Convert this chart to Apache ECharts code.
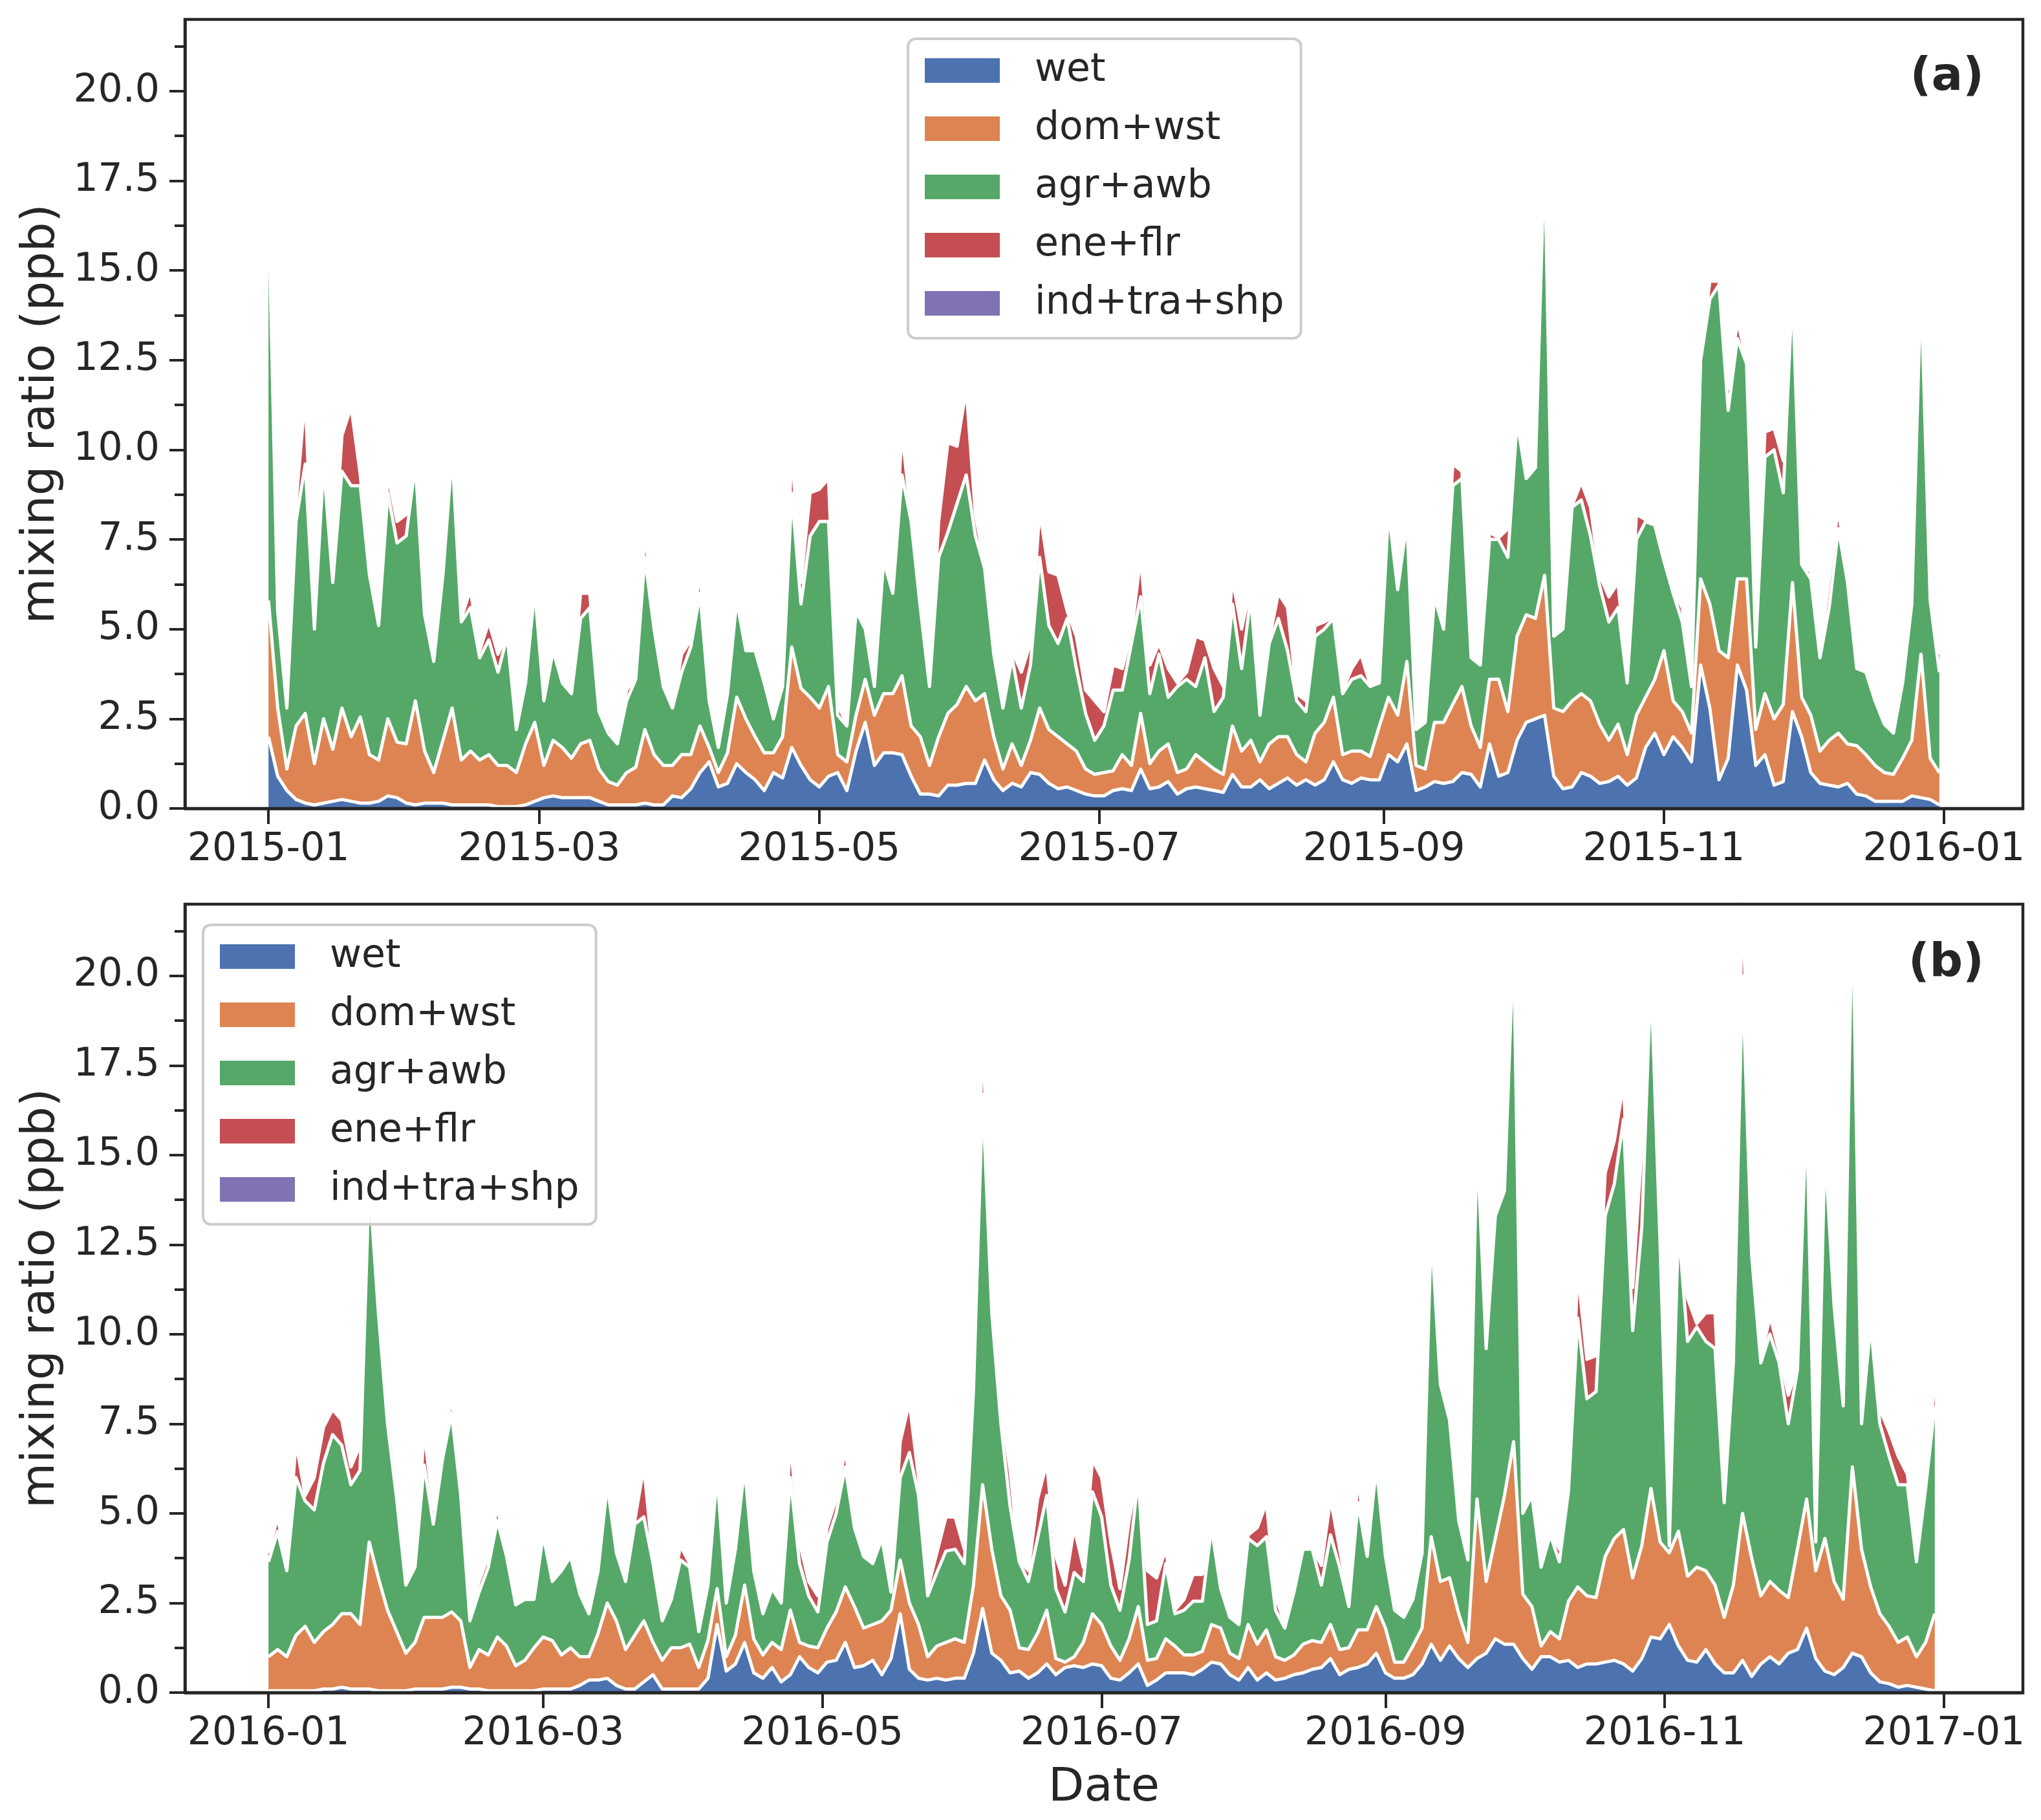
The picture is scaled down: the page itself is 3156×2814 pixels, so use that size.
<!DOCTYPE html>
<html><head><meta charset="utf-8">
<script src="https://cdn.jsdelivr.net/npm/echarts@6/dist/echarts.min.js"></script>
<style>html,body{margin:0;padding:0;background:#fff}#chart{width:3156px;height:2814px}</style>
</head><body><div id="chart"></div>
<script>
// ---------- data (values every 2 days, ppb) ----------
const sectors = ['wet', 'dom+wst', 'agr+awb', 'ene+flr', 'ind+tra+shp'];
const stepDays = 2;

const wet2015 = [
2.0,0.9,0.5,0.25,0.15,0.1,0.15,0.2,0.25,0.2,
0.15,0.15,0.2,0.35,0.3,0.15,0.1,0.15,0.15,0.15,
0.1,0.1,0.1,0.1,0.1,0.05,0.05,0.05,0.1,0.2,
0.3,0.35,0.3,0.3,0.3,0.3,0.2,0.1,0.1,0.1,
0.1,0.15,0.1,0.1,0.35,0.3,0.55,1.0,1.3,0.6,
0.7,1.25,1.0,0.8,0.5,1.0,0.85,1.7,1.2,0.8,
0.6,0.9,1.0,0.5,1.6,2.4,1.2,1.55,1.55,1.5,
0.9,0.4,0.4,0.35,0.65,0.65,0.7,0.7,1.35,0.8,
0.5,0.7,0.6,1.0,0.95,0.7,0.55,0.6,0.5,0.4,
0.35,0.35,0.5,0.55,0.5,1.1,0.55,0.6,0.75,0.4,
0.55,0.6,0.55,0.5,0.45,0.95,0.6,0.6,0.8,0.55,
0.7,0.85,0.65,0.8,0.65,0.8,1.3,0.8,0.7,0.85,
0.8,0.8,1.5,1.3,1.8,0.5,0.6,0.75,0.7,0.75,
1.0,0.95,0.6,1.8,0.9,1.0,1.9,2.4,2.5,2.6,
0.9,0.55,0.6,1.0,0.9,0.7,0.75,0.9,0.65,0.85,
1.7,2.1,1.5,2.0,1.7,1.3,4.0,2.8,0.8,1.4,
4.0,3.3,1.2,1.5,0.65,0.75,2.7,2.0,1.0,0.7,
0.65,0.6,0.7,0.4,0.35,0.2,0.2,0.2,0.2,0.35,
0.3,0.25,0.1];
const dom2015 = [
3.8,1.9,0.6,2.05,2.5,1.15,2.35,1.45,2.55,1.8,
2.4,1.35,1.15,2.15,1.55,1.65,2.9,1.45,0.85,1.75,
2.7,1.25,1.5,1.25,1.4,1.15,1.15,0.95,1.7,2.2,
0.9,1.55,1.4,1.1,1.5,1.6,0.9,0.65,0.55,0.9,
1.05,2.05,1.4,1.1,0.85,1.2,0.95,1.3,0.4,0.4,
0.85,1.85,1.5,1.2,1.05,0.55,1.15,2.8,2.15,2.3,
2.2,2.5,0.5,0.8,1.0,1.2,1.4,1.65,1.65,2.2,
1.4,1.6,0.8,1.65,2.0,2.25,2.7,2.3,1.85,1.2,
0.6,1.1,0.6,0.9,1.85,1.5,1.45,1.2,1.1,0.7,
0.6,0.65,0.55,0.95,0.7,1.55,0.7,1.0,1.05,0.6,
0.55,0.9,0.75,0.6,0.5,1.35,1.0,1.3,0.5,1.25,
1.3,1.15,0.85,0.5,1.45,1.6,1.8,0.7,0.9,0.75,
0.65,1.5,1.6,1.3,2.3,0.7,0.5,1.65,1.7,2.15,
2.4,1.35,1.1,1.8,2.7,1.7,2.9,3.0,2.8,3.9,
1.9,2.15,2.4,2.2,2.1,1.65,1.15,1.45,0.85,1.75,
1.4,1.5,2.9,1.0,1.0,0.8,2.4,2.9,3.6,2.8,
2.4,3.1,1.0,1.7,1.85,2.15,3.6,1.1,1.6,0.9,
1.25,1.5,1.1,1.35,1.15,1.0,0.8,0.75,1.2,1.55,
4.0,1.15,0.9];
const agr2015 = [
11.1,2.7,1.7,5.7,6.95,3.75,7.1,4.65,6.6,7.0,
6.45,5.0,3.75,6.3,5.55,5.8,6.6,3.8,3.1,4.6,
7.1,3.85,4.0,2.85,3.2,2.6,3.6,1.2,1.7,3.7,
1.8,2.5,1.8,1.8,3.5,3.7,1.6,1.35,1.15,2.0,
2.45,4.8,3.5,2.2,1.6,2.3,3.0,3.7,1.3,0.7,
1.65,2.7,1.9,2.4,1.95,0.95,1.4,4.3,2.35,4.5,
5.2,4.6,1.1,1.0,2.9,1.4,0.8,3.7,2.8,5.6,
5.7,3.6,2.2,5.0,5.05,5.6,5.9,4.6,3.5,2.3,
1.7,2.4,1.6,2.1,4.2,2.9,2.6,3.5,2.3,1.55,
0.95,1.3,2.25,1.8,3.4,3.25,1.95,2.7,1.3,2.4,
2.5,1.9,2.9,1.6,2.15,3.4,2.3,4.0,1.3,2.8,
3.3,2.4,1.5,1.4,2.7,2.6,2.2,1.7,2.0,2.1,
1.95,1.2,5.2,3.5,3.9,1.0,1.3,3.5,2.6,6.1,
5.8,1.9,2.3,3.9,3.9,4.3,6.0,3.8,4.2,11.8,
2.0,2.3,5.4,5.4,4.6,3.85,3.3,3.25,2.0,4.9,
4.9,4.3,2.5,3.0,2.5,1.3,6.1,8.5,10.2,6.9,
6.7,6.0,2.3,6.6,7.5,5.9,8.2,3.7,3.8,2.6,
3.7,5.7,4.5,2.15,2.3,1.8,1.35,1.15,2.1,3.8,
10.3,4.4,2.8];
const ene2015 = [
0.1,0.05,0.05,0.5,1.9,0.2,0.4,0.2,1.0,2.2,
0.3,0.05,0.05,0.5,0.6,0.6,0.3,0.5,0.05,0.05,
0.1,0.1,0.5,0.2,0.5,0.5,0.05,0.3,0.05,0.05,
0.05,0.05,0.05,0.05,0.7,0.4,0.05,0.2,0.05,0.3,
0.05,0.7,0.4,0.1,0.05,0.5,0.2,0.6,0.1,0.05,
0.05,0.4,0.1,0.05,0.1,0.05,0.1,1.2,0.6,1.2,
0.9,1.2,0.3,0.05,0.05,0.05,0.05,0.3,0.05,1.2,
0.1,0.6,0.05,1.0,2.5,1.6,2.4,0.6,0.1,0.3,
0.05,0.2,1.0,0.6,1.3,1.5,1.9,0.2,0.9,0.65,
1.1,0.4,0.7,0.6,0.3,1.1,0.8,0.3,0.8,0.1,
0.2,1.4,0.5,1.2,0.3,0.7,1.1,0.3,0.3,0.1,
0.7,1.2,0.2,0.3,0.3,0.2,0.05,0.1,0.3,0.6,
0.05,0.05,0.7,0.05,0.2,0.1,0.05,0.4,0.05,0.6,
0.2,0.05,0.05,0.2,0.05,0.8,0.1,0.05,0.1,0.1,
0.05,0.05,0.05,0.5,0.8,0.3,0.7,0.7,0.1,0.7,
0.05,0.05,0.1,0.05,0.4,0.1,0.1,0.5,0.1,0.6,
0.5,0.1,0.05,0.7,0.6,0.9,0.1,0.05,0.2,0.1,
0.8,0.6,0.05,0.05,0.05,0.2,0.05,0.05,0.3,0.3,
0.1,0.05,0.5];
const ind2015 = [
0.05,0.05,0.04,0.05,0.06,0.05,0.05,0.04,0.05,0.06,
0.05,0.04,0.04,0.05,0.05,0.05,0.06,0.04,0.04,0.05,
0.05,0.04,0.05,0.04,0.04,0.04,0.04,0.03,0.04,0.05,
0.04,0.04,0.04,0.04,0.05,0.05,0.03,0.03,0.03,0.04,
0.04,0.05,0.05,0.04,0.03,0.04,0.04,0.05,0.03,0.03,
0.04,0.05,0.04,0.04,0.04,0.03,0.04,0.06,0.05,0.05,
0.05,0.05,0.03,0.03,0.04,0.04,0.03,0.05,0.04,0.06,
0.05,0.05,0.04,0.05,0.06,0.06,0.06,0.05,0.04,0.04,
0.03,0.04,0.04,0.04,0.05,0.05,0.05,0.04,0.04,0.03,
0.03,0.03,0.04,0.04,0.04,0.05,0.04,0.04,0.04,0.03,
0.04,0.04,0.04,0.04,0.04,0.05,0.04,0.05,0.03,0.04,
0.05,0.05,0.04,0.03,0.04,0.05,0.04,0.04,0.04,0.04,
0.04,0.04,0.06,0.05,0.05,0.03,0.03,0.05,0.04,0.06,
0.06,0.04,0.04,0.05,0.05,0.05,0.07,0.06,0.06,0.09,
0.04,0.04,0.06,0.06,0.05,0.05,0.04,0.05,0.04,0.05,
0.05,0.05,0.05,0.04,0.04,0.03,0.07,0.08,0.08,0.07,
0.07,0.07,0.03,0.06,0.06,0.06,0.08,0.05,0.05,0.04,
0.05,0.05,0.05,0.04,0.04,0.04,0.03,0.03,0.04,0.05,
0.08,0.05,0.04];

const wet2016 = [
0.05,0.05,0.05,0.05,0.05,0.05,0.1,0.1,0.15,0.1,
0.1,0.1,0.05,0.05,0.05,0.05,0.1,0.1,0.1,0.1,
0.15,0.15,0.1,0.1,0.05,0.05,0.05,0.05,0.05,0.05,
0.1,0.1,0.1,0.1,0.2,0.35,0.35,0.4,0.2,0.1,
0.1,0.3,0.5,0.1,0.1,0.1,0.1,0.1,0.4,1.9,
0.6,0.8,1.4,0.55,0.4,0.7,0.3,0.5,1.0,0.7,
0.55,0.85,0.9,1.4,0.7,0.75,0.9,0.5,0.95,2.2,
0.65,0.4,0.35,0.4,0.35,0.4,0.4,1.1,2.35,1.1,
0.9,0.55,0.6,0.4,0.55,0.8,0.5,0.7,0.75,0.7,
0.8,0.75,0.4,0.35,0.55,0.8,0.2,0.35,0.55,0.55,
0.55,0.5,0.65,0.85,0.8,0.5,0.35,0.7,0.35,0.55,
0.35,0.4,0.5,0.55,0.65,0.7,0.95,0.5,0.65,0.7,
0.8,1.1,0.55,0.4,0.4,0.5,0.8,1.35,0.9,1.3,
0.95,0.7,0.95,1.1,1.5,1.35,1.35,0.95,0.65,1.0,
1.0,0.85,0.9,0.7,0.8,0.8,0.85,0.9,0.8,0.6,
0.95,1.55,1.5,1.9,1.3,0.9,0.85,1.2,0.8,0.55,
0.55,0.9,0.45,0.8,1.0,0.8,1.1,1.2,1.8,0.95,
0.6,0.5,0.7,1.1,1.0,0.55,0.3,0.25,0.15,0.2,
0.15,0.1,0.05];
const dom2016 = [
0.95,1.15,0.95,1.55,1.8,1.35,1.6,1.8,2.05,2.1,
1.8,4.1,3.15,2.25,1.65,1.05,1.3,2.0,2.0,2.0,
2.1,1.85,0.6,1.1,1.0,1.5,1.25,0.7,0.85,1.2,
1.45,1.35,0.95,1.15,0.8,0.65,1.3,2.1,1.8,1.1,
1.5,1.7,0.9,0.8,1.15,1.15,1.25,0.6,1.05,1.0,
0.4,0.8,1.6,0.95,0.65,0.7,0.9,1.8,0.4,0.6,
0.7,0.95,1.35,1.55,1.7,1.05,1.0,1.5,1.35,1.5,
1.85,1.5,0.65,0.9,1.05,1.1,1.0,1.9,3.45,2.9,
1.8,1.75,0.65,0.8,1.1,1.5,0.45,0.15,0.25,0.7,
1.4,1.15,0.9,0.55,0.95,1.6,0.7,0.6,0.95,0.75,
0.5,0.55,0.5,1.05,1.0,0.6,0.6,1.2,1.0,1.2,
0.65,0.5,0.55,0.8,0.8,0.7,0.95,0.7,0.6,1.05,
0.95,1.3,1.25,0.45,0.45,0.8,1.0,3.0,2.2,1.9,
1.25,0.7,4.45,2.0,2.8,4.15,5.65,1.8,1.75,0.3,
0.7,0.65,1.65,2.25,1.9,1.85,2.95,3.4,3.75,2.6,
3.15,4.15,2.7,2.0,3.2,2.35,2.65,2.2,2.2,1.55,
2.45,4.1,3.3,1.9,2.1,2.05,1.55,2.8,3.6,2.45,
3.7,2.6,1.9,5.2,3.0,2.4,1.9,1.6,1.25,1.35,
0.85,1.3,2.15];
const agr2016 = [
2.65,3.3,2.4,4.4,3.5,3.7,4.7,5.3,4.7,3.6,
4.3,10.1,7.4,5.2,3.7,1.9,2.1,4.25,2.6,4.4,
5.55,3.5,1.3,1.6,2.45,3.25,2.5,1.7,1.7,1.35,
2.85,1.65,2.35,2.55,1.75,1.2,1.75,3.3,1.9,1.9,
3.1,2.9,2.2,1.1,1.35,2.45,2.15,1.0,1.55,3.2,
1.5,2.4,3.3,1.9,1.15,1.5,1.3,3.7,2.2,1.4,
1.0,2.4,2.75,3.35,2.2,2.0,1.7,2.3,0.5,2.3,
4.2,3.6,1.7,2.05,2.55,2.5,2.2,5.4,10.9,6.6,
4.8,2.9,2.4,1.9,2.65,3.2,1.95,1.4,2.35,1.7,
3.4,3.0,1.7,1.4,2.2,3.6,1.0,1.05,2.1,0.9,
1.25,1.5,1.4,2.7,1.1,1.0,0.95,2.4,2.75,2.6,
1.3,0.9,1.75,2.65,2.55,1.6,2.5,2.3,1.15,3.55,
2.05,3.9,2.0,1.45,1.25,1.3,2.1,8.6,5.5,4.4,
2.6,2.3,10.0,6.5,9.0,8.5,14.0,2.25,3.1,2.2,
2.7,2.15,3.1,7.5,5.5,5.75,9.5,9.9,11.45,6.9,
8.9,14.3,8.3,0.2,8.5,6.55,6.7,6.4,6.6,3.2,
6.2,15.0,8.45,6.5,6.9,6.35,4.85,5.0,10.9,0.8,
10.9,7.7,5.4,16.0,3.5,7.35,5.3,4.75,4.4,4.25,
2.65,4.3,5.8];
const ene2016 = [
0.25,0.4,0.1,1.0,0.15,0.9,1.0,0.7,0.7,0.5,
0.7,0.2,0.7,0.7,0.7,0.05,0.05,0.95,0.4,0.1,
0.5,0.1,0.1,0.3,0.3,0.4,0.05,0.05,0.05,0.05,
0.3,0.05,0.1,0.1,0.25,0.05,0.05,0.05,0.05,0.1,
0.1,1.4,0.1,0.1,0.1,0.4,0.1,0.05,0.05,0.05,
0.1,0.05,0.05,0.2,0.05,0.05,0.05,1.0,0.6,0.4,
0.45,0.4,0.4,0.5,0.1,0.1,0.1,0.05,0.1,1.0,
1.4,0.5,0.2,0.55,0.95,0.9,0.4,0.2,1.8,1.0,
0.5,1.0,0.05,0.3,1.1,0.9,0.9,0.75,1.25,0.4,
0.9,1.1,1.2,0.6,1.1,0.2,1.5,1.2,0.4,0.1,
0.3,0.75,0.75,0.1,0.05,0.05,0.1,0.1,0.5,0.95,
0.4,0.1,0.1,0.1,0.05,0.55,1.0,0.5,0.2,0.7,
0.05,0.5,0.05,0.05,0.05,0.05,0.05,0.8,0.05,0.05,
0.05,0.05,0.1,0.2,0.2,0.1,0.2,0.1,0.05,0.05,
0.05,0.35,0.05,1.3,1.1,1.0,1.2,1.2,1.0,1.2,
2.2,0.2,0.1,0.05,0.1,1.2,0.1,0.8,1.0,0.1,
0.1,2.4,1.3,0.1,0.5,0.3,0.8,0.1,1.0,0.1,
1.4,0.2,0.5,0.1,0.05,0.05,0.4,0.7,0.8,0.3,
0.45,0.1,0.75];
const ind2016 = [
0.04,0.05,0.04,0.05,0.05,0.05,0.05,0.06,0.05,0.05,
0.05,0.08,0.07,0.05,0.05,0.03,0.04,0.05,0.04,0.05,
0.05,0.05,0.03,0.04,0.04,0.04,0.04,0.03,0.03,0.03,
0.04,0.04,0.04,0.04,0.03,0.03,0.04,0.05,0.04,0.04,
0.04,0.05,0.04,0.03,0.03,0.04,0.04,0.03,0.04,0.05,
0.03,0.04,0.05,0.04,0.03,0.03,0.03,0.05,0.04,0.03,
0.03,0.04,0.05,0.05,0.04,0.04,0.04,0.04,0.03,0.05,
0.05,0.05,0.03,0.04,0.04,0.04,0.04,0.05,0.09,0.06,
0.05,0.04,0.04,0.03,0.04,0.05,0.03,0.03,0.04,0.04,
0.05,0.05,0.04,0.03,0.04,0.05,0.03,0.03,0.04,0.03,
0.03,0.03,0.03,0.04,0.03,0.03,0.03,0.04,0.04,0.04,
0.03,0.03,0.04,0.04,0.04,0.04,0.04,0.04,0.03,0.05,
0.04,0.05,0.04,0.03,0.03,0.03,0.04,0.07,0.05,0.05,
0.04,0.04,0.08,0.06,0.07,0.08,0.1,0.04,0.04,0.04,
0.04,0.04,0.05,0.06,0.06,0.06,0.08,0.08,0.09,0.06,
0.08,0.1,0.07,0.04,0.07,0.06,0.06,0.06,0.06,0.04,
0.05,0.1,0.07,0.05,0.06,0.05,0.05,0.05,0.08,0.04,
0.08,0.06,0.05,0.1,0.04,0.05,0.05,0.04,0.04,0.04,
0.04,0.04,0.05];

const xTicks2015 = ['2015-01', '2015-03', '2015-05', '2015-07', '2015-09', '2015-11', '2016-01'];
const xTicks2016 = ['2016-01', '2016-03', '2016-05', '2016-07', '2016-09', '2016-11', '2017-01'];
const yMajorTicks = [0, 2.5, 5, 7.5, 10, 12.5, 15, 17.5, 20];
const yMinorTicks = [1.25, 3.75, 6.25, 8.75, 11.25, 13.75, 16.25, 18.75, 21.25];

// ---------- styling ----------
const colors = ['#4c72b0', '#dd8452', '#55a868', '#c44e52', '#8172b3'];
const ink = '#262626';
const FONT = 'DejaVu Sans';
const DAY = 86400000;

const panels = [
  { year: 2015, tag: '(a)', layers: [wet2015, dom2015, agr2015, ene2015, ind2015], ticks: xTicks2015,
    grid: { left: 286, top: 30, width: 2842, height: 1220 }, legendPos: { left: 1404, top: 60 }, tagY: 120, xName: '' },
  { year: 2016, tag: '(b)', layers: [wet2016, dom2016, agr2016, ene2016, ind2016], ticks: xTicks2016,
    grid: { left: 286, top: 1398, width: 2842, height: 1219 }, legendPos: { left: 314, top: 1430 }, tagY: 1490, xName: 'Date' }
];

function monthStart(label) {
  const [y, m] = label.split('-').map(Number);
  return Date.UTC(y, m - 1, 1);
}

const grids = [], xAxes = [], yAxes = [], series = [], legends = [], graphics = [];

panels.forEach((p, pi) => {
  grids.push(Object.assign({ show: true, z: 20, borderColor: ink, borderWidth: 4.5, backgroundColor: 'transparent' }, p.grid));
  const t0 = Date.UTC(p.year, 0, 1);
  const span = (Date.UTC(p.year + 1, 0, 1) - t0) / DAY - 1;
  const xMin = t0 - 0.05 * span * DAY, xMax = t0 + 1.05 * span * DAY;
  const tickTimes = p.ticks.map(monthStart);
  // time axis carrying the data (so the stack is computed on y)
  xAxes.push({
    type: 'time', gridIndex: pi, min: xMin, max: xMax, position: 'bottom', z: 10,
    axisLine: { show: true, onZero: false, lineStyle: { color: ink, width: 4.5 } },
    axisTick: { show: false }, axisLabel: { show: false }, splitLine: { show: false }
  });
  // value axis over the same extent, drawing the month ticks and labels
  xAxes.push({
    type: 'value', gridIndex: pi, min: xMin, max: xMax, position: 'bottom', z: 10,
    axisLine: { show: false, onZero: false },
    axisTick: { show: true, customValues: tickTimes, length: 24, lineStyle: { color: ink, width: 4 } },
    axisLabel: { show: true, customValues: tickTimes, margin: 34, fontSize: 60, color: ink, fontFamily: FONT,
      formatter: v => { const k = tickTimes.findIndex(t => Math.abs(t - v) < DAY / 2); return k >= 0 ? p.ticks[k] : ''; } },
    splitLine: { show: false },
    name: p.xName, nameLocation: 'middle', nameGap: 112,
    nameTextStyle: { fontSize: 72, color: ink, fontFamily: FONT }
  });
  yAxes.push({
    type: 'value', gridIndex: pi, min: 0, max: 22, position: 'left', z: 10,
    axisLine: { show: true, lineStyle: { color: ink, width: 4.5 } },
    axisTick: { show: true, customValues: yMajorTicks, length: 24, lineStyle: { color: ink, width: 4 } },
    axisLabel: { show: true, customValues: yMajorTicks, margin: 39, fontSize: 60, color: ink, fontFamily: FONT,
      formatter: v => v.toFixed(1) },
    splitLine: { show: false },
    name: 'mixing ratio (ppb)', nameLocation: 'middle', nameGap: 186,
    nameTextStyle: { fontSize: 72, color: ink, fontFamily: FONT }
  });
  yAxes.push({
    type: 'value', gridIndex: pi, min: 0, max: 22, position: 'left', z: 10,
    axisLine: { show: false },
    axisTick: { show: true, customValues: yMinorTicks, length: 16, lineStyle: { color: ink, width: 4 } },
    axisLabel: { show: false },
    splitLine: { show: false }
  });
  const times = p.layers[0].map((_, i) => t0 + i * stepDays * DAY);
  p.layers.forEach((arr, k) => {
    series.push({
      name: sectors[k], type: 'line', xAxisIndex: pi * 2, yAxisIndex: pi * 2, stack: 'total' + pi,
      data: arr.map((v, i) => [times[i], v]),
      symbol: 'none', showSymbol: false, color: colors[k],
      lineStyle: { color: '#ffffff', width: 5, join: 'round' },
      areaStyle: { color: colors[k], opacity: 1 },
      itemStyle: { color: colors[k] },
      z: 8 - k, silent: true, animation: false, emphasis: { disabled: true }
    });
  });
  legends.push({
    show: true, orient: 'vertical', left: p.legendPos.left, top: p.legendPos.top, z: 30,
    data: sectors, icon: 'rect', selectedMode: false,
    itemWidth: 116, itemHeight: 38, itemGap: 30,
    padding: [19, 26, 24, 26],
    backgroundColor: 'rgba(255,255,255,0.85)', borderColor: '#cccccc', borderWidth: 4, borderRadius: 12,
    formatter: name => '{t|' + name + '}',
    textStyle: { fontSize: 60, color: ink, fontFamily: FONT,
      rich: { t: { fontSize: 60, color: ink, fontFamily: FONT, padding: [0, 0, 0, 49], lineHeight: 60 } } }
  });
  graphics.push({
    type: 'text', x: 3068, y: p.tagY, z: 100,
    style: { text: p.tag, align: 'right', verticalAlign: 'middle', fill: ink, font: 'bold 72px "DejaVu Sans"' }
  });
});

const chart = echarts.init(document.getElementById('chart'), null, { renderer: 'canvas' });
chart.setOption({
  animation: false,
  backgroundColor: '#ffffff',
  grid: grids, xAxis: xAxes, yAxis: yAxes, series: series, legend: legends, graphic: graphics
});
</script></body></html>
